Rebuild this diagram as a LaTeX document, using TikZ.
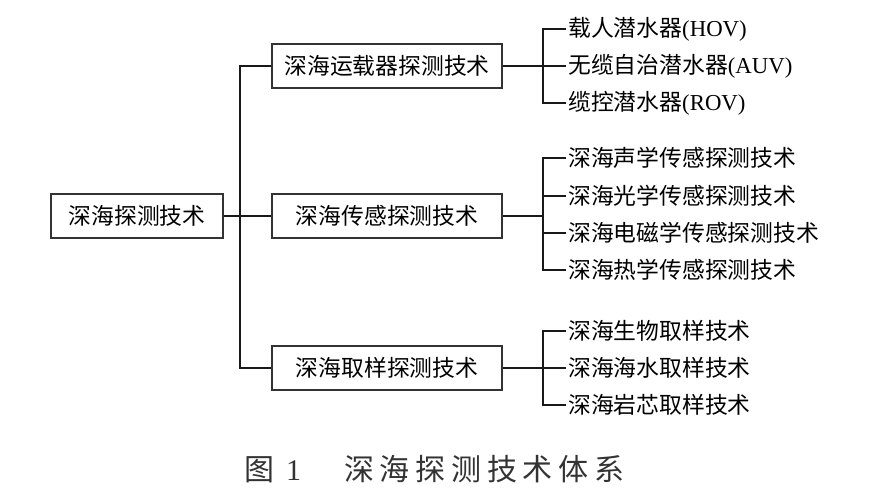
\documentclass[tikz,border=0pt]{standalone}
\usepackage{fontspec}
\setmainfont{Liberation Serif}
\newfontfamily\cjk{Noto Sans CJK SC}
\newfontfamily\cjkcap[LetterSpace=19]{Noto Sans CJK SC}
\begin{document}
\begin{tikzpicture}[x=1pt,y=-1pt,
  box/.style={draw=black!80, line width=1.3pt, minimum height=44pt, inner sep=0pt, font=\fontsize{22.8}{26}\selectfont\cjk},
  leaf/.style={anchor=west, inner sep=2pt, font=\fontsize{22.8}{26}\selectfont},
  conn/.style={line width=1.3pt, draw=black!90}]
\useasboundingbox (0,0) rectangle (882,495);
\fill[white] (0,0) rectangle (882,495);

\node[box, minimum width=172pt] (root) at (137,216) {深海探测技术};
\node[box, minimum width=230pt] (b1) at (387,66) {深海运载器探测技术};
\node[box, minimum width=230pt] (b2) at (387,216) {深海传感探测技术};
\node[box, minimum width=230pt] (b3) at (387,368) {深海取样探测技术};

\coordinate (t1) at (240,66);
\coordinate (t3) at (240,368);
\draw[conn] (root.east) -- (b2.west);
\draw[conn] (b1.west) -- (t1) -- (t3) -- (b3.west);

% group 1
\node[leaf] (l11) at (566,29) {{\cjk 载人潜水器}(HOV)};
\node[leaf] (l12) at (566,66) {{\cjk 无缆自治潜水器}(AUV)};
\node[leaf] (l13) at (566,103) {{\cjk 缆控潜水器}(ROV)};
\coordinate (g1a) at (543,29);
\coordinate (g1b) at (543,66);
\coordinate (g1c) at (543,103);
\draw[conn] (b1.east) -- (g1b) -- (l12.west);
\draw[conn] (l11.west) -- (g1a) -- (g1c) -- (l13.west);

% group 2
\node[leaf] (l21) at (566,158) {\cjk 深海声学传感探测技术};
\node[leaf] (l22) at (566,196) {\cjk 深海光学传感探测技术};
\node[leaf] (l23) at (566,233) {\cjk 深海电磁学传感探测技术};
\node[leaf] (l24) at (566,270) {\cjk 深海热学传感探测技术};
\coordinate (g2a) at (543,158);
\coordinate (g2b) at (543,196);
\coordinate (g2m) at (543,216);
\coordinate (g2c) at (543,233);
\coordinate (g2d) at (543,270);
\draw[conn] (b2.east) -- (g2m);
\draw[conn] (l21.west) -- (g2a) -- (g2d) -- (l24.west);
\draw[conn] (g2b) -- (l22.west);
\draw[conn] (g2c) -- (l23.west);

% group 3
\node[leaf] (l31) at (566,331) {\cjk 深海生物取样技术};
\node[leaf] (l32) at (566,368) {\cjk 深海海水取样技术};
\node[leaf] (l33) at (566,405) {\cjk 深海岩芯取样技术};
\coordinate (g3a) at (543,331);
\coordinate (g3b) at (543,368);
\coordinate (g3c) at (543,405);
\draw[conn] (b3.east) -- (g3b) -- (l32.west);
\draw[conn] (l31.west) -- (g3a) -- (g3c) -- (l33.west);

% caption
\node[anchor=west, inner sep=0pt, text=black!80, font=\fontsize{30}{34}\selectfont] (cap) at (244,469) {{\cjkcap 图}\hspace{12pt}1\hspace{43pt}{\cjkcap 深海探测技术体系}};
\end{tikzpicture}
\end{document}
